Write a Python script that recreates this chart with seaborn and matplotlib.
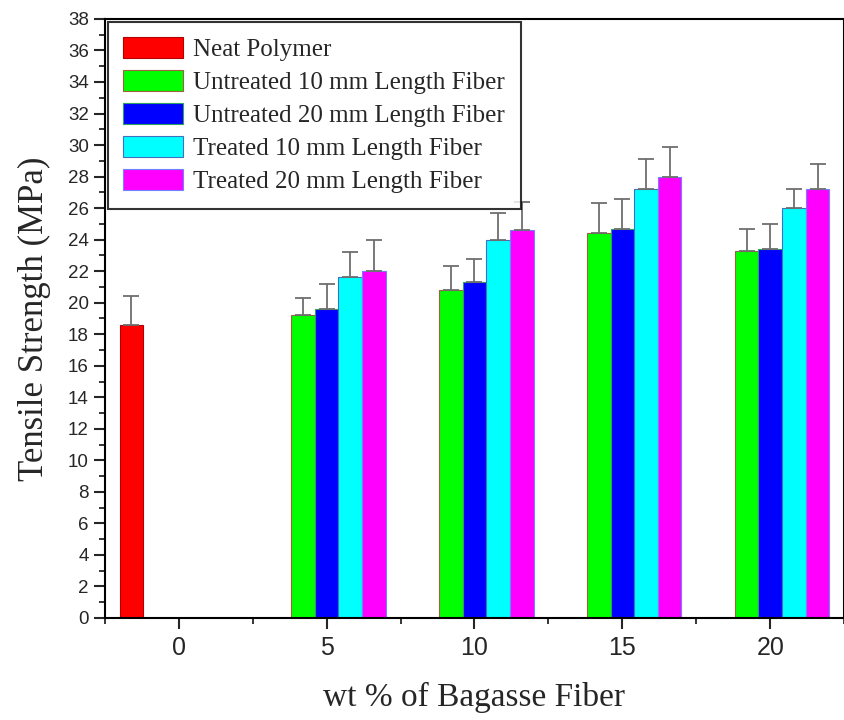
import pandas as pd
import numpy as np
import matplotlib
matplotlib.use('Agg')
import matplotlib.pyplot as plt
from matplotlib.ticker import MultipleLocator
import seaborn as sns

# data
wt = [0, 5, 10, 15, 20]
levels = ["Neat Polymer",
          "Untreated 10 mm Length Fiber",
          "Untreated 20 mm Length Fiber",
          "Treated 10 mm Length Fiber",
          "Treated 20 mm Length Fiber"]
neat_val = [18.6]
neat_err = [1.8]
unt10_val = [19.2, 20.8, 24.4, 23.3]
unt10_err = [1.1, 1.5, 1.9, 1.4]
unt20_val = [19.6, 21.3, 24.7, 23.4]
unt20_err = [1.6, 1.5, 1.9, 1.6]
tr10_val = [21.6, 24.0, 27.2, 26.0]
tr10_err = [1.6, 1.7, 1.9, 1.2]
tr20_val = [22.0, 24.6, 28.0, 27.2]
tr20_err = [2.0, 1.8, 1.9, 1.6]

colors = ["#ff0000", "#00ff00", "#0000ff", "#00ffff", "#ff00ff"]
edges = ["#b00000", "#a0603a", "#30a060", "#4070c0", "#7080ff"]

# long table
rows = []
rows.append(pd.DataFrame({"wt": wt[:1], "val": neat_val, "err": neat_err, "fiber": levels[0]}))
for lev, v, e in zip(levels[1:], [unt10_val, unt20_val, tr10_val, tr20_val],
                     [unt10_err, unt20_err, tr10_err, tr20_err]):
    rows.append(pd.DataFrame({"wt": wt[1:], "val": v, "err": e, "fiber": lev}))
df = pd.concat(rows, ignore_index=True)

sns.set_style("ticks")
plt.rcParams['font.family'] = ['Liberation Sans', 'DejaVu Sans']

fig = plt.figure(figsize=(8.45, 7.2), dpi=100)
ax = fig.add_axes([0.124, 0.1417, 0.875, 0.832])

sns.barplot(data=df, x="wt", y="val", hue="fiber", hue_order=levels,
            palette=colors, saturation=1, native_scale=True, width=0.8,
            errorbar=None, linewidth=0.8, ax=ax, legend=True)

# edges + error bars (upper only)
for cont, lev, ec in zip(ax.containers, levels, edges):
    sub = df[df.fiber == lev].sort_values("wt")
    bars = sorted(cont, key=lambda b: b.get_x())
    for bar, (_, r) in zip(bars, sub.iterrows()):
        bar.set_edgecolor(ec)
        xc = bar.get_x() + bar.get_width() / 2
        ax.errorbar(xc, r.val, yerr=[[0], [r.err]], fmt='none', ecolor='#6e6e6e',
                    elinewidth=1.3, capsize=6, capthick=1.3, zorder=1)

ax.set_xlim(-2.5, 22.5)
ax.set_ylim(0, 38)
ax.set_xticks(wt)
ax.xaxis.set_minor_locator(MultipleLocator(2.5))
ax.yaxis.set_major_locator(MultipleLocator(2))
ax.yaxis.set_minor_locator(MultipleLocator(1))
ax.tick_params(axis='both', which='major', length=8, width=1.5, direction='out')
ax.tick_params(axis='y', which='major', labelsize=13.5)
ax.tick_params(axis='x', which='major', labelsize=18, pad=5)
ax.tick_params(axis='both', which='minor', length=4.5, width=1.3, direction='out')
for s in ax.spines.values():
    s.set_visible(True)
    s.set_linewidth(1.5)
    s.set_color('black')

ax.set_xlabel("wt % of Bagasse Fiber", family=['Liberation Serif'], fontsize=24, labelpad=16)
ax.set_ylabel("Tensile Strength (MPa)", family=['Liberation Serif'], fontsize=25, labelpad=12)

leg = ax.legend(loc='upper left', bbox_to_anchor=(0.0, 1.0), borderaxespad=0.12,
                prop={'family': 'Liberation Serif', 'size': 18}, frameon=True,
                fancybox=False, edgecolor='black', handlelength=2.4, handleheight=0.9,
                labelspacing=0.36, borderpad=0.62, handletextpad=0.4)
leg.get_frame().set_linewidth(1.5)
for h, ec in zip(leg.legend_handles, edges):
    h.set_edgecolor(ec)

fig.savefig("out.png", dpi=100)
